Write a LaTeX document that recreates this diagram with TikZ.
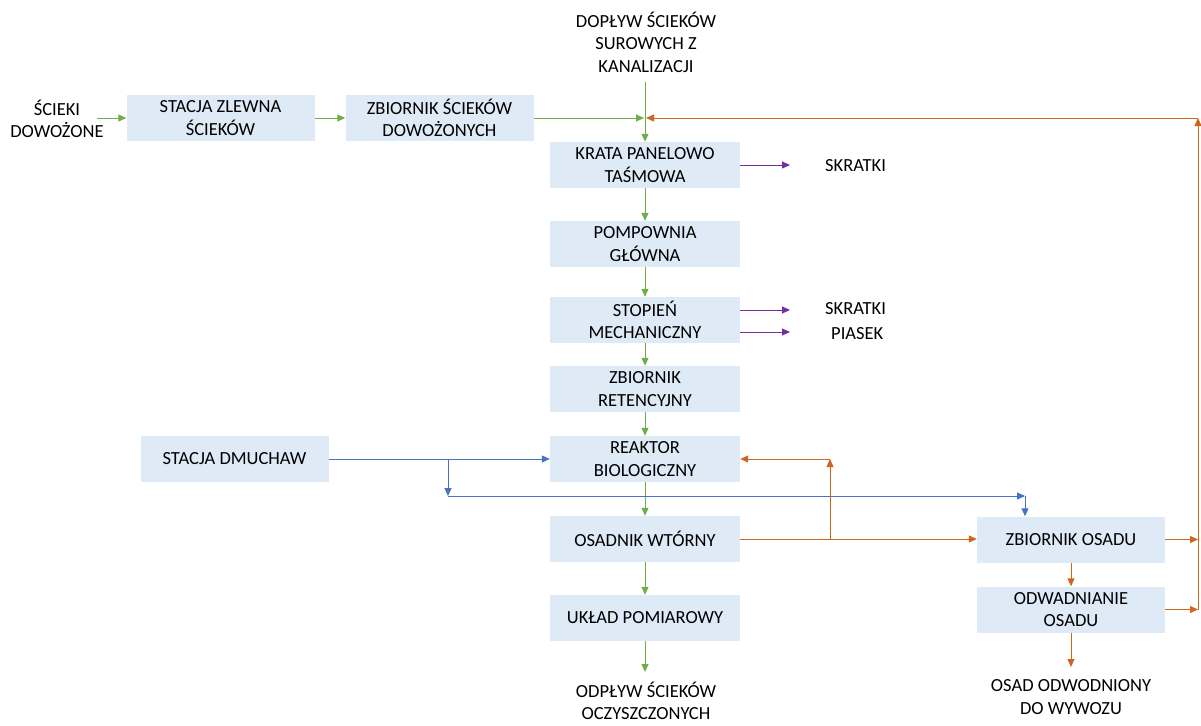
\documentclass[tikz,border=0pt]{standalone}
\usepackage{fontspec}
\setmainfont{Carlito}
\usetikzlibrary{arrows.meta}
\definecolor{boxfill}{HTML}{DEEBF7}
\definecolor{cgreen}{HTML}{70AD47}
\definecolor{corange}{HTML}{D0661E}
\definecolor{cblue}{HTML}{4472C4}
\definecolor{cpurple}{HTML}{7030A0}
\begin{document}
\begin{tikzpicture}[x=1pt,y=-1pt,
  box/.style={fill=boxfill,draw=none,minimum width=188pt,minimum height=46pt,align=center,inner sep=0pt,font=\fontsize{18.5}{22.5}\selectfont},
  lbl/.style={align=center,inner sep=0pt,font=\fontsize{18.5}{22.5}\selectfont},
  arr/.style={line width=1pt,-{Triangle[length=8pt,width=7pt]}},
  g/.style={draw=cgreen},
  o/.style={draw=corange},
  b/.style={draw=cblue},
  p/.style={draw=cpurple}]
\useasboundingbox (0,0) rectangle (1201,725);

% boxes
\node[box] (stacja) at (220.5,118) {STACJA ZLEWNA\\ŚCIEKÓW};
\node[box] (zbdow) at (439.5,118) {ZBIORNIK ŚCIEKÓW\\DOWOŻONYCH};
\node[box,minimum width=190pt] (krata) at (645,165) {KRATA PANELOWO\\TAŚMOWA};
\node[box,minimum width=190pt] (pomp) at (645,244) {POMPOWNIA\\GŁÓWNA};
\node[box,minimum width=190pt] (stop) at (645,320) {STOPIEŃ\\MECHANICZNY};
\node[box,minimum width=190pt] (ret) at (645,389) {ZBIORNIK\\RETENCYJNY};
\node[box,minimum width=190pt] (reak) at (645,459) {REAKTOR\\BIOLOGICZNY};
\node[box] (dmuch) at (234.5,459) {STACJA DMUCHAW};
\node[box,minimum width=190pt] (osad) at (645,539) {OSADNIK WTÓRNY};
\node[box,minimum width=190pt] (uklad) at (645,618) {UKŁAD POMIAROWY};
\node[box] (zbos) at (1071,539.5) {ZBIORNIK OSADU};
\node[box] (odw) at (1071,609.5) {ODWADNIANIE\\OSADU};

% labels
\node[lbl] (dowoz) at (57,119) {ŚCIEKI\\DOWOŻONE};
\node[lbl] (doplyw) at (646,42) {DOPŁYW ŚCIEKÓW\\SUROWYCH Z\\KANALIZACJI};
\node[lbl,anchor=west] (skr1) at (825,166) {SKRATKI};
\node[lbl,anchor=west] (skr2) at (825,309) {SKRATKI};
\node[lbl,anchor=west] (pias) at (831,334) {PIASEK};
\node[lbl] (odplyw) at (646,701) {ODPŁYW ŚCIEKÓW\\OCZYSZCZONYCH};
\node[lbl] (osodw) at (1071,697) {OSAD ODWODNIONY\\DO WYWOZU};

% coordinates
\coordinate (top) at (645,82);
\coordinate (J) at (645,118);
\coordinate (R1) at (1198,118);
\coordinate (R2) at (1198,539.5);
\coordinate (R3) at (1198,609.5);
\coordinate (B1) at (448,459);
\coordinate (B2) at (448,496);
\coordinate (B3) at (1025,496);
\coordinate (O1) at (830,539);
\coordinate (O2) at (830,459);
\coordinate (Pk) at (790,165);
\coordinate (Ps1) at (790,310);
\coordinate (Ps2) at (790,332);
\coordinate (Gin) at (97,118);
\coordinate (Gout) at (645,672);
\coordinate (Oout) at (1071,667);

% green
\draw[arr,g] (Gin) -- (stacja.west);
\draw[arr,g] (stacja.east) -- (zbdow.west);
\draw[arr,g,shorten >=1pt] (zbdow.east) -- (J);
\draw[arr,g] (top) -- (krata.north);
\draw[arr,g] (krata.south) -- (pomp.north);
\draw[arr,g] (pomp.south) -- (stop.north);
\draw[arr,g] (stop.south) -- (ret.north);
\draw[arr,g] (ret.south) -- (reak.north);
\draw[arr,g] (reak.south) -- (osad.north);
\draw[arr,g] (osad.south) -- (uklad.north);
\draw[arr,g] (uklad.south) -- (Gout);

% purple
\draw[arr,p] (krata.east) -- (Pk);
\draw[arr,p] (stop.east |- Ps1) -- (Ps1);
\draw[arr,p] (stop.east |- Ps2) -- (Ps2);

% blue
\draw[arr,b] (dmuch.east) -- (reak.west);
\draw[arr,b] (B1) -- (B2);
\draw[arr,b] (B2) -- (B3);
\draw[arr,b] (B3) -- (zbos.north -| B3);

% orange
\draw[arr,o] (osad.east |- O1) -- (zbos.west |- O1);
\draw[arr,o] (O1) -- (O2);
\draw[arr,o] (O2) -- (reak.east |- O2);
\draw[arr,o] (zbos.south) -- (odw.north);
\draw[arr,o] (odw.south) -- (Oout);
\draw[arr,o] (zbos.east) -- (R2);
\draw[arr,o] (odw.east) -- (R3);
\draw[arr,o] (R3) -- (R1);
\draw[arr,o,shorten >=1pt] (R1) -- (J);
\end{tikzpicture}
\end{document}
